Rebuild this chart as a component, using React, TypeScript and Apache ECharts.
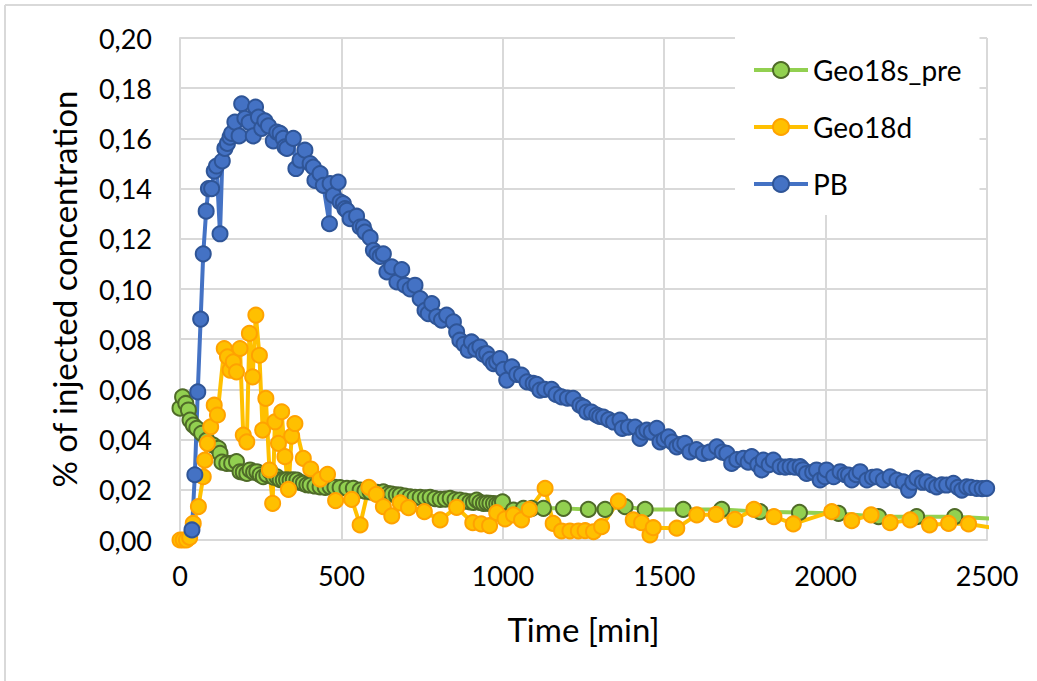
import React, { useEffect, useRef } from "react";
import * as echarts from "echarts";

// ---- Data (time in min, value in % of injected concentration) ----
const geoSTime = [0, 8, 18, 26, 31, 41, 52, 67, 83, 103, 119, 124, 130, 145, 160, 175, 186, 196, 207, 217, 228, 238, 248, 258, 269, 279, 290, 300, 310, 320, 330, 341, 351, 362, 372, 382, 393, 403, 418, 434, 450, 465, 480, 496, 517, 537, 558, 573, 589, 610, 630, 645, 656, 670, 682, 697, 713, 728, 744, 760, 775, 790, 806, 822, 837, 852, 867, 883, 898, 909, 919, 929, 940, 950, 960, 971, 981, 990, 999, 1033, 1064, 1090, 1126, 1188, 1265, 1317, 1379, 1441, 1559, 1678, 1797, 1919, 2040, 2164, 2282, 2400, 2520];
const geoSValue = [0.0525, 0.057, 0.0544, 0.0518, 0.0478, 0.0458, 0.0445, 0.0425, 0.0398, 0.0378, 0.0365, 0.0345, 0.031, 0.0305, 0.0305, 0.0312, 0.0272, 0.027, 0.0265, 0.0279, 0.027, 0.0272, 0.026, 0.0252, 0.026, 0.0272, 0.025, 0.0252, 0.024, 0.0239, 0.024, 0.0239, 0.024, 0.0239, 0.023, 0.0226, 0.022, 0.0219, 0.0215, 0.0212, 0.021, 0.0212, 0.021, 0.0209, 0.0206, 0.0206, 0.0199, 0.0195, 0.0192, 0.019, 0.0192, 0.0185, 0.0183, 0.018, 0.0179, 0.0175, 0.0172, 0.017, 0.017, 0.0168, 0.017, 0.0165, 0.0162, 0.0163, 0.0166, 0.016, 0.0159, 0.0155, 0.0152, 0.015, 0.0159, 0.015, 0.0146, 0.0147, 0.0146, 0.0145, 0.0143, 0.0144, 0.0152, 0.0119, 0.0126, 0.0126, 0.0126, 0.0126, 0.0122, 0.0122, 0.0133, 0.0122, 0.0122, 0.0122, 0.0113, 0.011, 0.0106, 0.0093, 0.0093, 0.0093, 0.0085];

const geoDTime = [0, 10, 20, 30, 41, 57, 72, 77, 85, 95, 106, 116, 137, 147, 155, 165, 175, 186, 196, 207, 215, 225, 235, 246, 256, 266, 277, 287, 294, 305, 315, 325, 336, 346, 356, 382, 405, 434, 457, 482, 532, 558, 585, 608, 630, 656, 682, 708, 757, 806, 857, 907, 933, 959, 981, 1007, 1033, 1058, 1082, 1131, 1156, 1182, 1208, 1234, 1255, 1281, 1306, 1358, 1404, 1430, 1456, 1466, 1539, 1601, 1661, 1719, 1778, 1840, 1900, 2019, 2081, 2141, 2200, 2262, 2322, 2381, 2443, 2560];
const geoDValue = [0, 0, 0, 0.001, 0.0066, 0.0133, 0.0252, 0.0318, 0.0385, 0.0451, 0.0537, 0.0498, 0.0763, 0.073, 0.0677, 0.071, 0.067, 0.0763, 0.0418, 0.0391, 0.0823, 0.065, 0.0896, 0.0736, 0.0438, 0.0564, 0.0279, 0.0146, 0.0471, 0.0385, 0.0511, 0.0332, 0.0202, 0.0414, 0.0464, 0.0325, 0.0283, 0.0242, 0.0262, 0.0157, 0.0162, 0.006, 0.021, 0.0182, 0.0133, 0.0096, 0.0148, 0.0129, 0.0113, 0.008, 0.013, 0.0069, 0.0064, 0.0057, 0.0109, 0.0084, 0.01, 0.008, 0.0122, 0.0206, 0.0066, 0.0036, 0.0036, 0.0036, 0.0037, 0.0033, 0.0053, 0.0155, 0.008, 0.0069, 0.002, 0.0049, 0.0047, 0.01, 0.0102, 0.0082, 0.0122, 0.0093, 0.0064, 0.0113, 0.0077, 0.01, 0.0069, 0.008, 0.006, 0.0066, 0.0064, 0.004];

const pbTime = [37, 46, 55, 64, 72, 81, 88, 98, 106, 113, 124, 131, 139, 147, 155, 160, 170, 183, 191, 201, 214, 227, 234, 243, 253, 263, 274, 289, 300, 310, 320, 325, 331, 351, 359, 372, 387, 403, 413, 418, 434, 444, 463, 465, 475, 490, 496, 506, 511, 517, 527, 547, 558, 568, 573, 589, 599, 610, 620, 630, 641, 656, 672, 687, 697, 713, 728, 744, 759, 769, 780, 795, 810, 826, 847, 857, 867, 880, 893, 903, 916, 929, 940, 950, 960, 971, 981, 991, 1002, 1012, 1028, 1043, 1058, 1075, 1094, 1105, 1115, 1130, 1151, 1165, 1182, 1200, 1218, 1239, 1250, 1260, 1275, 1291, 1300, 1312, 1328, 1343, 1363, 1370, 1389, 1410, 1425, 1435, 1446, 1460, 1477, 1487, 1500, 1513, 1525, 1539, 1550, 1564, 1580, 1600, 1621, 1640, 1663, 1680, 1694, 1709, 1725, 1745, 1760, 1771, 1790, 1802, 1807, 1825, 1838, 1859, 1875, 1890, 1905, 1921, 1930, 1941, 1960, 1972, 1983, 1998, 2003, 2025, 2045, 2060, 2071, 2081, 2095, 2107, 2128, 2145, 2159, 2179, 2200, 2221, 2241, 2257, 2270, 2283, 2300, 2313, 2330, 2344, 2360, 2375, 2396, 2410, 2422, 2437, 2450, 2468, 2485, 2499];
const pbValue = [0.004, 0.026, 0.059, 0.088, 0.114, 0.131, 0.14, 0.14, 0.147, 0.149, 0.122, 0.151, 0.156, 0.158, 0.1605, 0.162, 0.1665, 0.161, 0.1738, 0.168, 0.1664, 0.161, 0.1725, 0.1685, 0.164, 0.167, 0.165, 0.159, 0.1625, 0.162, 0.16, 0.1566, 0.156, 0.16, 0.148, 0.1513, 0.1553, 0.15, 0.1486, 0.1433, 0.146, 0.1413, 0.126, 0.142, 0.1373, 0.1426, 0.1347, 0.134, 0.132, 0.1313, 0.128, 0.129, 0.1247, 0.1247, 0.1227, 0.1205, 0.1154, 0.114, 0.113, 0.114, 0.1068, 0.1088, 0.1028, 0.1077, 0.1015, 0.1, 0.1015, 0.0962, 0.0915, 0.0902, 0.0942, 0.089, 0.0876, 0.0896, 0.0869, 0.0829, 0.0796, 0.078, 0.0756, 0.0789, 0.076, 0.0769, 0.074, 0.0743, 0.072, 0.0703, 0.071, 0.0723, 0.068, 0.0637, 0.069, 0.066, 0.0657, 0.063, 0.0624, 0.062, 0.0597, 0.06, 0.06, 0.058, 0.057, 0.0565, 0.0564, 0.0537, 0.053, 0.051, 0.051, 0.0498, 0.0492, 0.049, 0.048, 0.047, 0.0478, 0.0445, 0.045, 0.045, 0.0405, 0.043, 0.0438, 0.043, 0.0445, 0.0391, 0.04, 0.0411, 0.039, 0.0371, 0.038, 0.0385, 0.0351, 0.036, 0.0345, 0.035, 0.0371, 0.035, 0.0345, 0.0305, 0.032, 0.0325, 0.031, 0.0332, 0.03, 0.0279, 0.0318, 0.03, 0.0318, 0.0292, 0.029, 0.0292, 0.029, 0.0292, 0.028, 0.0265, 0.027, 0.0279, 0.0239, 0.0252, 0.0279, 0.0252, 0.0272, 0.026, 0.0259, 0.0239, 0.026, 0.0272, 0.0239, 0.025, 0.0252, 0.0239, 0.0252, 0.0239, 0.0232, 0.0199, 0.023, 0.0246, 0.023, 0.0232, 0.022, 0.0212, 0.022, 0.0219, 0.0226, 0.021, 0.0199, 0.0212, 0.021, 0.0206, 0.0205, 0.0206];

const seriesNames = ["Geo18s_pre", "Geo18d", "PB"];
const xTicks = { min: 0, max: 2500, interval: 500 };
const yTicks = { min: 0, max: 0.2, interval: 0.02 };

const zip = (xs: number[], ys: number[]) => xs.map((x, i) => [x, ys[i]]);

const FONT = "Lato";

export default function App() {
  const ref = useRef<HTMLDivElement>(null);
  useEffect(() => {
    if (!ref.current) return;
    const chart = echarts.init(ref.current, undefined, { renderer: "svg" });
    const mkSeries = (name: string, data: number[][], fill: string, border: string, line: string) => ({
      name,
      type: "line",
      data,
      symbol: "circle",
      symbolSize: 15,
      showAllSymbol: true,
      clip: true,
      lineStyle: { color: line, width: 4 },
      itemStyle: { color: fill, borderColor: border, borderWidth: 2 },
      emphasis: { disabled: true },
    });
    chart.setOption({
      animation: false,
      backgroundColor: "#ffffff",
      grid: { left: 180, right: 50, top: 38, bottom: 141, containLabel: false },
      xAxis: {
        type: "value",
        min: xTicks.min,
        max: xTicks.max,
        interval: xTicks.interval,
        name: "Time [min]",
        nameLocation: "middle",
        nameGap: 72,
        nameTextStyle: { fontFamily: FONT, fontSize: 33, color: "#000" },
        axisLine: { show: true, lineStyle: { color: "#d9d9d9", width: 2 } },
        axisTick: { show: false },
        axisLabel: {
          fontFamily: FONT,
          fontSize: 27,
          color: "#000",
          margin: 22,
          formatter: (v: number) => String(v),
        },
        splitLine: { show: true, lineStyle: { color: "#d9d9d9", width: 2 } },
      },
      yAxis: {
        type: "value",
        min: yTicks.min,
        max: yTicks.max,
        interval: yTicks.interval,
        name: "% of injected concentration",
        nameLocation: "middle",
        nameGap: 100,
        nameTextStyle: { fontFamily: FONT, fontSize: 33, color: "#000" },
        axisLine: { show: true, lineStyle: { color: "#d9d9d9", width: 2 } },
        axisTick: { show: false },
        axisLabel: {
          fontFamily: FONT,
          fontSize: 27,
          color: "#000",
          margin: 28,
          formatter: (v: number) => v.toFixed(2).replace(".", ","),
        },
        splitLine: { show: true, lineStyle: { color: "#d9d9d9", width: 2 } },
      },
      legend: {
        orient: "vertical",
        left: 735,
        top: 36,
        padding: [17, 18, 14, 17],
        backgroundColor: "#ffffff",
        itemWidth: 54,
        itemHeight: 20,
        itemGap: 23,
        lineStyle: { width: 4 },
        itemStyle: { borderWidth: 2 },
        textStyle: { fontFamily: FONT, fontSize: 28, color: "#000", lineHeight: 34 },
        data: seriesNames,
      },
      graphic: [
        { type: "line", shape: { x1: 5, y1: 5, x2: 1032, y2: 5 }, style: { stroke: "#d9d9d9", lineWidth: 2 } },
        { type: "line", shape: { x1: 5, y1: 5, x2: 5, y2: 681 }, style: { stroke: "#d9d9d9", lineWidth: 2 } },
      ],
      series: [
        mkSeries(seriesNames[0], zip(geoSTime, geoSValue), "#92D050", "#4F6B28", "#92D050"),
        mkSeries(seriesNames[1], zip(geoDTime, geoDValue), "#FFC000", "#FFA200", "#FFC000"),
        mkSeries(seriesNames[2], zip(pbTime, pbValue), "#4472C4", "#2F5597", "#4472C4"),
      ],
    });
    return () => chart.dispose();
  }, []);
  return <div ref={ref} style={{ position: "fixed", left: 0, top: 0, width: 1037, height: 681 }} />;
}
